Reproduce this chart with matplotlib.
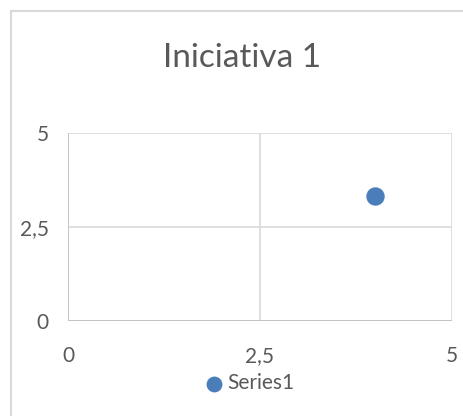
import matplotlib.pyplot as plt
from matplotlib.patches import Rectangle
from matplotlib.ticker import FuncFormatter

# data
x_vals = [4]
y_vals = [3.33]
series_name = "Series1"
title = "Iniciativa 1"
ticks = [0, 2.5, 5]

plt.rcParams['font.family'] = ['Lato', 'DejaVu Sans']

W, H = 464, 416
fig = plt.figure(figsize=(W / 100, H / 100), dpi=100)

# chart frame (cropped at right and bottom)
fig.patches.append(Rectangle((11 / W, -0.1), 2, (H - 11) / H + 0.1,
                             transform=fig.transFigure, fill=False,
                             edgecolor='#d9d9d9', linewidth=1.5))

ax = fig.add_axes([68 / W, (H - 321) / H, (452 - 68) / W, (321 - 133) / H])
sc = ax.scatter(x_vals, y_vals, s=150, color='#4a7ebb', edgecolor='#4a7ebb',
                zorder=3, label=series_name)

ax.set_xlim(0, 5)
ax.set_ylim(0, 5)
ax.set_xticks(ticks)
ax.set_yticks(ticks)
fmt = FuncFormatter(lambda v, p: ("%g" % v).replace('.', ','))
ax.xaxis.set_major_formatter(fmt)
ax.yaxis.set_major_formatter(fmt)
ax.grid(True, color='#d9d9d9', linewidth=1.2)
for s in ax.spines.values():
    s.set_visible(False)
ax.axhline(0, color='#bfbfbf', linewidth=1.2, zorder=2)
ax.axvline(0, color='#bfbfbf', linewidth=1.2, zorder=2)
ax.tick_params(length=0, labelsize=15, colors='#595959')
ax.tick_params(axis='x', pad=18)
ax.tick_params(axis='y', pad=14)

fig.text(242 / W, 1 - 58 / H, title, ha='center', va='center',
         fontsize=24, color='#595959')

leg = fig.legend(handles=[sc], loc='center', bbox_to_anchor=(248 / W, 1 - 383 / H),
                 frameon=False, fontsize=15, handletextpad=0.0,
                 markerscale=0.85, handlelength=1.2)
for t in leg.get_texts():
    t.set_color('#595959')

fig.savefig('out.png', dpi=100)
